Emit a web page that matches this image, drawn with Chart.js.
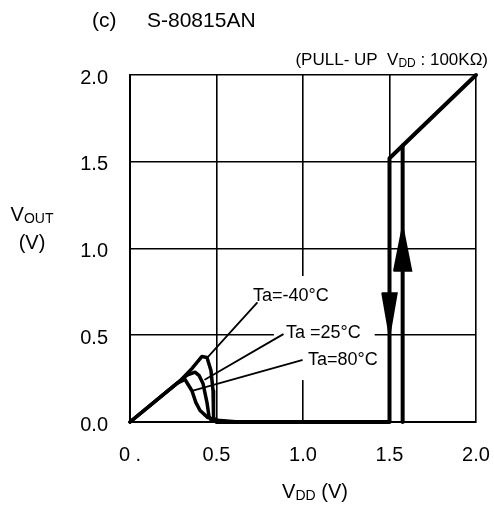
<!DOCTYPE html>
<html>
<head>
<meta charset="utf-8">
<script src="https://cdn.jsdelivr.net/npm/chart.js@4.4.0/dist/chart.umd.min.js"></script>
<style>
html, body { margin: 0; padding: 0; background: #fff; }
#vout { display: block; }
</style>
</head>
<body>
<canvas id="vout" width="494" height="507"></canvas>
<script>
const xTicks = [0, 0.5, 1.0, 1.5, 2.0];
const yTicks = [0, 0.5, 1.0, 1.5, 2.0];

// low VDD region, one trace per temperature
const vdd40 = [0, 0.289, 0.36, 0.416, 0.445, 0.468, 0.48, 0.483, 0.49, 0.56, 0.63];
const vout40 = [0, 0.237, 0.31, 0.378, 0.372, 0.297, 0.18, 0.03, 0.008, 0.002, 0];
const vdd25 = [0, 0.289, 0.33, 0.376, 0.40, 0.422, 0.445, 0.457, 0.47, 0.55, 0.63];
const vout25 = [0, 0.237, 0.27, 0.287, 0.267, 0.222, 0.112, 0.03, 0.01, 0.003, 0];
const vdd80 = [0, 0.27, 0.318, 0.358, 0.381, 0.405, 0.45, 0.52, 0.63];
const vout80 = [0, 0.222, 0.245, 0.18, 0.112, 0.066, 0.025, 0.008, 0];

// detection / release (hysteresis)
const vddFall = [2.0, 1.5, 1.5, 0.5];
const voutFall = [2.0, 1.52, 0, 0];
const vddRise = [1.576, 1.576];
const voutRise = [0, 1.593];

// arrow heads (closed wedges)
const vddArrowDown = [1.46, 1.5, 1.54, 1.46];
const voutArrowDown = [0.74, 0.51, 0.74, 0.74];
const vddArrowUp = [1.528, 1.576, 1.624, 1.528];
const voutArrowUp = [0.873, 1.115, 0.873, 0.873];

// leader lines, first point is at the label
const tempLabels = ['Ta=-40°C', 'Ta =25°C', 'Ta=80°C'];
const leadVdd = [[0.734, 0.451], [0.884, 0.434], [0.994, 0.364]];
const leadVout = [[0.686, 0.375], [0.505, 0.245], [0.357, 0.181]];

const pts = (xs, ys) => xs.map((x, i) => ({ x: x, y: ys[i] }));
const FONT = "'Liberation Sans', Arial, sans-serif";

function line(xs, ys, w) {
  return { data: pts(xs, ys), borderColor: '#000', borderWidth: w, showLine: true,
           pointRadius: 0, fill: false, tension: 0, borderJoinStyle: 'round', borderCapStyle: 'round' };
}
function wedge(xs, ys) {
  const d = line(xs, ys, 2.5);
  d.fill = 'shape';
  d.backgroundColor = '#000';
  d.borderJoinStyle = 'miter';
  return d;
}

const datasets = [
  line(vdd40, vout40, 3.5),
  line(vdd25, vout25, 3.5),
  line(vdd80, vout80, 3.5),
  line(vddFall, voutFall, 4),
  line(vddRise, voutRise, 4),
  wedge(vddArrowDown, voutArrowDown),
  wedge(vddArrowUp, voutArrowUp)
];
leadVdd.forEach((xs, i) => datasets.push(line(xs, leadVout[i], 1.8)));

// label offsets from the leader end, pixels
const labelOff = [[-4, -7], [3, -1], [6, 0]];

function labelBoxes(chart) {
  const ctx = chart.ctx;
  const xs = chart.scales.x, ys = chart.scales.y;
  ctx.font = '18px ' + FONT;
  return tempLabels.map((t, i) => {
    const px = xs.getPixelForValue(leadVdd[i][0]) + labelOff[i][0];
    const py = ys.getPixelForValue(leadVout[i][0]) + labelOff[i][1];
    return { t: t, x: px, y: py, w: ctx.measureText(t).width };
  });
}

function subText(ctx, parts, x, y) {
  // parts: [text, size, dy]
  let cx = x;
  parts.forEach(p => {
    ctx.font = p[1] + 'px ' + FONT;
    ctx.fillText(p[0], cx, y + p[2]);
    cx += ctx.measureText(p[0]).width;
  });
  return cx - x;
}
function subWidth(ctx, parts) {
  let w = 0;
  parts.forEach(p => { ctx.font = p[1] + 'px ' + FONT; w += ctx.measureText(p[0]).width; });
  return w;
}

const textPlugin = {
  id: 'texts',
  beforeDatasetsDraw(chart) {
    const ctx = chart.ctx;
    ctx.save();
    ctx.fillStyle = '#fff';
    labelBoxes(chart).forEach(b => {
      ctx.fillRect(b.x - 12, b.y - 20, b.w + 26, 40);
    });
    ctx.restore();
  },
  afterDraw(chart) {
    const ctx = chart.ctx;
    ctx.save();
    ctx.fillStyle = '#000';
    ctx.textBaseline = 'middle';
    ctx.textAlign = 'left';
    ctx.font = '18px ' + FONT;
    labelBoxes(chart).forEach(b => ctx.fillText(b.t, b.x, b.y));

    ctx.textBaseline = 'alphabetic';
    ctx.font = '21px ' + FONT;
    ctx.fillText('(c)', 92, 27);
    ctx.fillText('S-80815AN', 147, 27);

    const pull = [['(PULL- UP  V', 17, 0], ['DD', 12, 2], [' : 100KΩ)', 17, 0]];
    subText(ctx, pull, 488 - subWidth(ctx, pull), 65);

    const vout = [['V', 20, 0], ['OUT', 14, 2]];
    subText(ctx, vout, 32 - subWidth(ctx, vout) / 2, 221);
    ctx.font = '20px ' + FONT;
    ctx.textAlign = 'center';
    ctx.fillText('(V)', 32, 249);
    ctx.textAlign = 'left';

    const vdd = [['V', 20, 0], ['DD', 14, 2], [' (V)', 20, 0]];
    subText(ctx, vdd, 315 - subWidth(ctx, vdd) / 2, 498);
    ctx.restore();
  }
};

const axisFont = { size: 20, family: FONT };

new Chart(document.getElementById('vout'), {
  type: 'scatter',
  data: { datasets: datasets },
  options: {
    responsive: false,
    animation: false,
    clip: false,
    layout: { padding: { top: 75, right: 18, left: 0, bottom: 0 } },
    plugins: { legend: { display: false }, tooltip: { enabled: false } },
    scales: {
      x: {
        type: 'linear', min: 0, max: 2,
        afterBuildTicks: s => { s.ticks = xTicks.map(v => ({ value: v })); },
        afterFit: s => { s.height = 85; s.paddingLeft = 0; s.paddingRight = 0; },
        ticks: { color: '#000', font: axisFont, padding: 21, maxRotation: 0,
                 callback: v => v === 0 ? '0 .' : v.toFixed(1) },
        grid: { color: '#000', lineWidth: 1.6, drawTicks: false },
        border: { color: '#000', width: 2 }
      },
      y: {
        type: 'linear', min: 0, max: 2,
        afterBuildTicks: s => { s.ticks = yTicks.map(v => ({ value: v })); },
        afterFit: s => { s.width = 130; s.paddingTop = 0; s.paddingBottom = 0; },
        ticks: { color: '#000', font: axisFont, padding: 22, labelOffset: 3,
                 callback: v => v.toFixed(1) },
        grid: { color: '#000', lineWidth: 1.6, drawTicks: false },
        border: { color: '#000', width: 2 }
      }
    }
  },
  plugins: [textPlugin]
});
</script>
</body>
</html>
